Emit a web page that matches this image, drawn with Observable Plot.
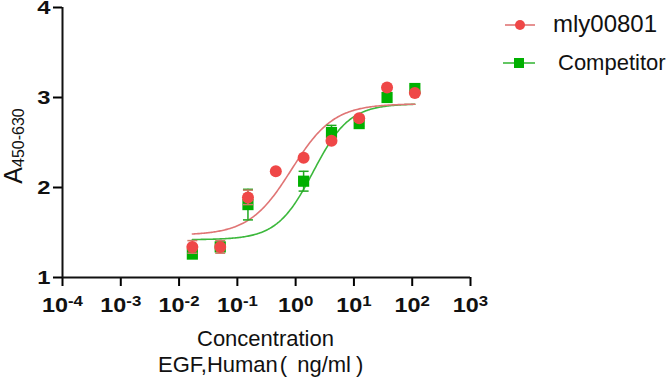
<!DOCTYPE html>
<html>
<head>
<meta charset="utf-8">
<script src="https://cdn.jsdelivr.net/npm/d3@7"></script>
<script src="https://cdn.jsdelivr.net/npm/@observablehq/plot@0.6"></script>
<style>
  html, body { margin: 0; padding: 0; background: #fff; }
  #chart { width: 668px; height: 378px; position: relative; }
  svg { font-family: "Liberation Sans", Arial, sans-serif; }
</style>
</head>
<body>
<div id="chart"></div>
<script>
// ---- data ----
const seriesNames = ["mly00801", "Competitor"];
const mlyConc = [0.0169, 0.0508, 0.152, 0.457, 1.37, 4.12, 12.3, 37.0, 111];
const mlyValue = [1.34, 1.34, 1.89, 2.18, 2.33, 2.52, 2.77, 3.11, 3.05];
const mlyErr = [0.07, 0.07, 0.08, 0, 0, 0.03, 0.03, 0, 0];
const compConc = [0.0169, 0.0508, 0.152, 1.37, 4.12, 12.3, 37.0, 111];
const compValue = [1.26, 1.34, 1.81, 2.07, 2.61, 2.71, 3.00, 3.10];
const compErr = [0.03, 0.05, 0.17, 0.11, 0.08, 0.03, 0.03, 0.03];
// four-parameter logistic fit parameters (bottom, top, EC50, Hill slope)
const mlyFit = {bottom: 1.47, top: 2.93, ec50: 0.85, hill: 1.2};
const compFit = {bottom: 1.42, top: 2.93, ec50: 2.0, hill: 1.4};
const xTicks = [1e-4, 1e-3, 1e-2, 1e-1, 1e0, 1e1, 1e2, 1e3];
const yTicks = [1, 2, 3, 4];

const RED = "#EF4747", RED_LINE = "#E07575", RED_ERR = "#CF7A68";
const GREEN = "#00B000", GREEN_LINE = "#3CB83C", GREEN_ERR = "#1FA81F";

const rows = (conc, val, err) => conc.map((c, i) => ({x: c, y: val[i], lo: val[i] - err[i], hi: val[i] + err[i], e: err[i]}));
const mlyRows = rows(mlyConc, mlyValue, mlyErr);
const compRows = rows(compConc, compValue, compErr);

function fitCurve(p, x0, x1) {
  const n = 200, a = Math.log10(x0), b = Math.log10(x1);
  return d3.range(n + 1).map(i => {
    const x = Math.pow(10, a + (b - a) * i / n);
    return {x, y: p.bottom + (p.top - p.bottom) / (1 + Math.pow(p.ec50 / x, p.hill))};
  });
}
const mlyCurve = fitCurve(mlyFit, d3.min(mlyConc), d3.max(mlyConc));
const compCurve = fitCurve(compFit, d3.min(compConc), d3.max(compConc));

const cap = {draw(ctx, size) { ctx.moveTo(-5, 0); ctx.lineTo(5, 0); }};

const chart = Plot.plot({
  width: 668,
  height: 378,
  marginLeft: 62,
  marginRight: 198,
  marginTop: 7,
  marginBottom: 101,
  style: {fontFamily: "'Liberation Sans', Arial, sans-serif", background: "#fff", overflow: "visible"},
  x: {type: "log", domain: [1e-4, 1e3]},
  y: {domain: [1, 4]},
  marks: [
    Plot.axisX({ticks: xTicks, tickSize: 9, tickPadding: 12, strokeWidth: 2, fontSize: 19.5, fontWeight: "bold", fill: "#111", label: null,
      tickFormat: d => String(Math.round(Math.log10(d)))}),
    Plot.axisY({ticks: yTicks, tickSize: 9, tickPadding: 3, strokeWidth: 2, fontSize: 19, fontWeight: "bold", fill: "#111", label: null,
      tickFormat: d => String(d)}),
    Plot.ruleX([1e-4], {y1: 1, y2: 4, stroke: "#111", strokeWidth: 2}),
    Plot.ruleY([1], {x1: 1e-4, x2: 1e3, stroke: "#111", strokeWidth: 2}),
    Plot.line(compCurve, {x: "x", y: "y", stroke: GREEN_LINE, strokeWidth: 1.6, curve: "linear"}),
    Plot.line(mlyCurve, {x: "x", y: "y", stroke: RED_LINE, strokeWidth: 1.6, curve: "linear"}),
    Plot.ruleX(compRows.filter(d => d.e > 0), {x: "x", y1: "lo", y2: "hi", stroke: GREEN_ERR, strokeWidth: 1.5}),
    Plot.dot(compRows.filter(d => d.e > 0), {x: "x", y: "lo", symbol: cap, stroke: GREEN_ERR, strokeWidth: 1.5}),
    Plot.dot(compRows.filter(d => d.e > 0), {x: "x", y: "hi", symbol: cap, stroke: GREEN_ERR, strokeWidth: 1.5}),
    Plot.dot(compRows, {x: "x", y: "y", symbol: "square", r: 6.3, fill: GREEN, stroke: null}),
    Plot.ruleX(mlyRows.filter(d => d.e > 0), {x: "x", y1: "lo", y2: "hi", stroke: RED_ERR, strokeWidth: 1.5}),
    Plot.dot(mlyRows.filter(d => d.e > 0), {x: "x", y: "lo", symbol: cap, stroke: RED_ERR, strokeWidth: 1.5}),
    Plot.dot(mlyRows.filter(d => d.e > 0), {x: "x", y: "hi", symbol: cap, stroke: RED_ERR, strokeWidth: 1.5}),
    Plot.dot(mlyRows, {x: "x", y: "y", symbol: "circle", r: 6, fill: RED, stroke: null})
  ]
});
document.getElementById("chart").appendChild(chart);

const svg = d3.select(chart);
// superscript exponents on x tick labels, widened glyphs like the reference
svg.selectAll('g[aria-label="x-axis tick label"] text').each(function() {
  const exp = this.textContent;
  const t = d3.select(this);
  t.text(null);
  t.append("tspan").text("10");
  t.append("tspan").attr("dy", "-0.45em").attr("font-size", 14).text(exp);
  const tr = t.attr("transform") || "";
  t.attr("transform", tr + " scale(1.2,1)");
});
svg.selectAll('g[aria-label="y-axis tick label"] text').each(function() {
  const t = d3.select(this);
  const tr = t.attr("transform") || "";
  t.attr("transform", tr + " scale(1.25,1)");
});

// y-axis title: A with subscript
const yt = svg.append("text")
  .attr("transform", "translate(22,146) rotate(-90)")
  .attr("text-anchor", "middle")
  .attr("font-size", 25)
  .attr("fill", "#111");
yt.append("tspan").text("A");
yt.append("tspan").attr("dy", 2).attr("font-size", 16).text("450-630");

// x-axis title (two lines)
svg.append("text").attr("x", 265.5).attr("y", 346).attr("text-anchor", "middle")
  .attr("font-size", 22).attr("fill", "#111").text("Concentration");
const xt2 = svg.append("text").attr("x", 158).attr("y", 372).attr("text-anchor", "start")
  .attr("font-size", 22).attr("fill", "#111");
xt2.append("tspan").text("EGF,Human");
xt2.append("tspan").attr("dx", 2).text("(");
xt2.append("tspan").attr("dx", 10).text("ng/ml");
xt2.append("tspan").attr("dx", 5).text(")");

// legend
const lg = svg.append("g").attr("text-anchor", "start");
const l1 = lg.append("g");
l1.append("line").attr("x1", 505).attr("x2", 535).attr("y1", 25).attr("y2", 25).attr("stroke", RED_LINE).attr("stroke-width", 1.6);
l1.append("circle").attr("cx", 520).attr("cy", 25).attr("r", 5).attr("fill", RED);
l1.append("text").attr("x", 553).attr("y", 32).attr("text-anchor", "start").attr("font-size", 24).attr("fill", "#111").text(seriesNames[0]);
const l2 = lg.append("g");
l2.append("line").attr("x1", 503).attr("x2", 535).attr("y1", 63).attr("y2", 63).attr("stroke", GREEN_LINE).attr("stroke-width", 1.6);
l2.append("rect").attr("x", 514).attr("y", 58).attr("width", 10).attr("height", 10).attr("fill", GREEN);
l2.append("text").attr("x", 558).attr("y", 70).attr("text-anchor", "start").attr("font-size", 22).attr("fill", "#111").text(seriesNames[1]);
</script>
</body>
</html>
